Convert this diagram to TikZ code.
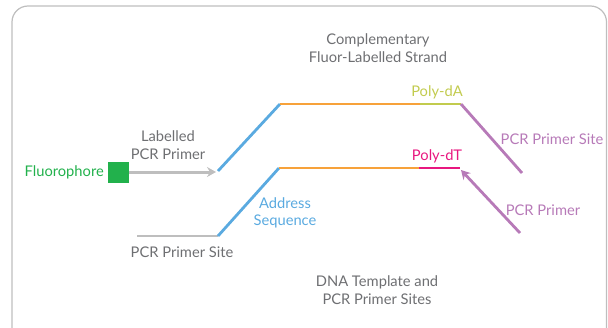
\documentclass[tikz,border=0pt]{standalone}
\usepackage{fontspec}
\setmainfont{Lato}
\usetikzlibrary{arrows.meta}
\definecolor{addrblue}{RGB}{90,170,224}
\definecolor{seqorange}{RGB}{247,162,58}
\definecolor{polyagreen}{RGB}{194,203,78}
\definecolor{polytpink}{RGB}{232,23,127}
\definecolor{primerpurple}{RGB}{183,122,184}
\definecolor{textgray}{RGB}{110,111,114}
\definecolor{linegray}{RGB}{190,190,190}
\definecolor{fluorgreen}{RGB}{34,177,76}
\tikzset{
  strand/.style={line width=2.8pt},
  lbl/.style={font=\fontsize{14.7}{17.5}\selectfont, align=center, inner sep=0pt},
}
\begin{document}
\begin{tikzpicture}[x=1pt,y=-1pt]
                \useasboundingbox (0,0) rectangle (608,327);
                \clip (0,0) rectangle (608,327);
                \draw [linegray, line width=1.2pt, rounded corners=16pt] (12,6) rectangle (606.5,345);

                % complementary fluor-labelled strand
                \coordinate (ta) at (218,171);
                \coordinate (tb) at (280,104);
                \coordinate (tc) at (420,104);
                \coordinate (td) at (461,104);
                \coordinate (te) at (522,173);
                \draw [addrblue, strand] (ta) -- (tb);
                \draw [seqorange, strand] (tb) -- (tc);
                \draw [polyagreen, strand] (tc) -- (td);
                \draw [primerpurple, strand] (td) -- (te);

                % DNA template
                \coordinate (ba) at (137,236);
                \coordinate (bb) at (218,236);
                \coordinate (bc) at (279,168);
                \coordinate (bd) at (419,168);
                \coordinate (be) at (460,168);
                \draw [linegray, strand] (ba) -- (bb);
                \draw [addrblue, strand] (bb) -- (bc);
                \draw [seqorange, strand] (bc) -- (bd);
                \draw [polytpink, strand] (bd) -- (be);

                % fluorophore and primers
                \node [fill=fluorgreen, minimum size=21pt, inner sep=0pt] (fluor) at (118,172) {};
                \coordinate (lp) at (216,172);
                \draw [linegray, line width=3pt, -{Stealth[length=9pt,width=10pt,inset=3pt]}] (fluor.east) -- (lp);
                \coordinate (pp) at (520,233);
                \coordinate (ppend) at (461,170);
                \draw [primerpurple, line width=2.8pt, -{Stealth[length=9pt,width=10pt,inset=3pt]}] (pp) -- (ppend);

                % labels
                \node [lbl, text=textgray] (comp) at (378,48) {Complementary\\Fluor-Labelled Strand};
                \node [lbl, text=polyagreen] (polyda) at (437,92) {Poly-dA};
                \node [lbl, text=polytpink] (polydt) at (437,156) {Poly-dT};
                \node [lbl, text=primerpurple] (sitetop) at (552,139) {PCR Primer Site};
                \node [lbl, text=primerpurple] (primer) at (543,210) {PCR Primer};
                \node [lbl, text=fluorgreen, anchor=east] (fluorlbl) at (104,172) {Fluorophore};
                \node [lbl, text=textgray] (labprimer) at (168,145) {Labelled\\PCR Primer};
                \node [lbl, text=addrblue] (address) at (285,213) {Address\\Sequence};
                \node [lbl, text=textgray] (sitebot) at (182,252) {PCR Primer Site};
                \node [lbl, text=textgray] (template) at (377,290) {DNA Template and\\PCR Primer Sites};
            \end{tikzpicture}
\end{document}
